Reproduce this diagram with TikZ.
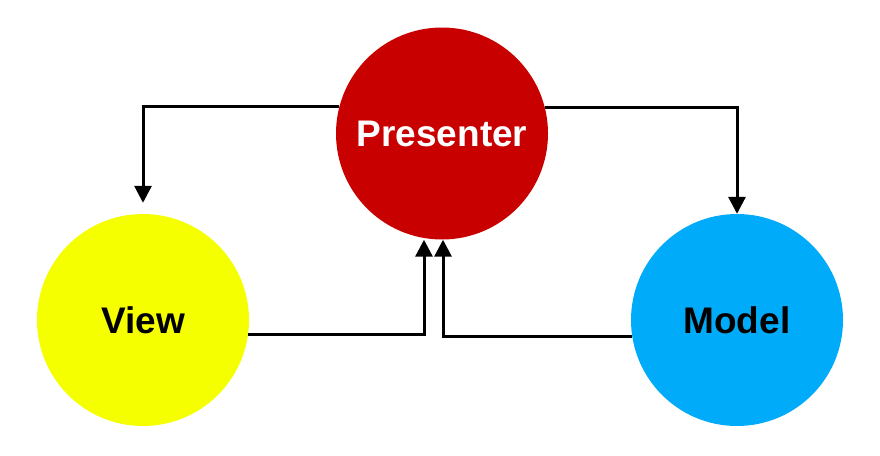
\documentclass[tikz,border=0pt]{standalone}
\usepackage{fontspec}
\setmainfont{Liberation Sans}
\usetikzlibrary{arrows.meta}
\definecolor{pred}{RGB}{200,0,0}
\definecolor{vyel}{RGB}{246,255,0}
\definecolor{mblue}{RGB}{0,172,250}
\tikzset{
  ball/.style={circle, minimum size=212pt, inner sep=0pt, font=\fontsize{37}{40}\selectfont\bfseries},
  conn/.style={line width=3pt, -{Triangle[length=17pt,width=17pt]}}
}
\begin{document}
\begin{tikzpicture}[x=1pt,y=-1pt]
\useasboundingbox[fill=white] (0,0) rectangle (880,455);
\node[ball, fill=pred, text=white] (P) at (442,133.5) {Presenter};
\node[ball, fill=vyel, text=black] (V) at (143,320) {View};
\node[ball, fill=mblue, text=black] (M) at (737,320) {Model};
\draw[conn, shorten >=11pt] (P.165.5) -| (V.north);
\draw[conn] (P.14.5) -| (M.north);
\draw[conn] (V.-8.1) -| ([xshift=-18pt]P.south);
\draw[conn] (M.-171.9) -| ([xshift=1pt]P.south);
\end{tikzpicture}
\end{document}
